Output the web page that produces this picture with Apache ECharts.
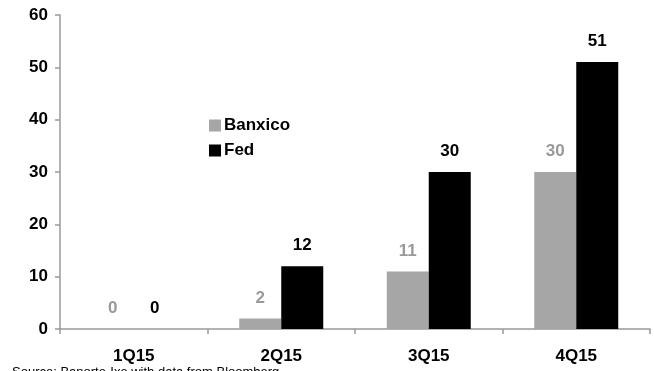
<!DOCTYPE html>
<html>
<head>
<meta charset="utf-8">
<script src="https://cdn.jsdelivr.net/npm/echarts@6/dist/echarts.min.js"></script>
<style>
  html, body { margin: 0; padding: 0; background: #fff; }
  #chart { width: 654px; height: 371px; }
</style>
</head>
<body>
<div id="chart"></div>
<script>
const categories = ['1Q15', '2Q15', '3Q15', '4Q15']
const banxico = [0, 2, 11, 30]
const fed = [0, 12, 30, 51]
const yTicks = [0, 60, 10]

const font = '"Liberation Sans Narrow", "Arial Narrow", "Liberation Sans", Arial, sans-serif'
const axisColor = '#999999'

const chart = echarts.init(document.getElementById('chart'))

chart.setOption({
  animation: false,
  textStyle: { fontFamily: font },
  grid: { left: 60, right: 4, top: 15, bottom: 42 },
  legend: {
    orient: 'vertical',
    left: 204,
    top: 112,
    itemWidth: 12,
    itemHeight: 12,
    itemGap: 8,
    icon: 'rect',
    textStyle: { fontFamily: font, fontWeight: 'bold', fontSize: 17, color: '#000', padding: [0, 0, 0, -2] },
    data: ['Banxico', 'Fed'],
  },
  graphic: [
    {
      type: 'text',
      left: 12,
      top: 366,
      style: { text: 'Source: Banorte-Ixe with data from Bloomberg', font: '13px "Liberation Sans", Arial, sans-serif', fill: '#000' },
    },
  ],
  xAxis: {
    type: 'category',
    data: categories,
    axisLine: { lineStyle: { color: axisColor, width: 1.5 } },
    axisTick: { show: true, length: 5, lineStyle: { color: axisColor, width: 1.5 } },
    axisLabel: { fontFamily: font, fontWeight: 'bold', fontSize: 17, color: '#000', margin: 19 },
  },
  yAxis: {
    type: 'value',
    min: yTicks[0],
    max: yTicks[1],
    interval: yTicks[2],
    axisLine: { show: true, lineStyle: { color: axisColor, width: 1.5 } },
    axisTick: { show: true, length: 5, lineStyle: { color: axisColor, width: 1.5 } },
    splitLine: { show: false },
    axisLabel: { fontFamily: font, fontWeight: 'bold', fontSize: 17, color: '#000', margin: 12 },
  },
  series: [
    {
      name: 'Banxico',
      type: 'bar',
      data: banxico,
      barWidth: 42,
      barGap: '0%',
      itemStyle: { color: '#a6a6a6' },
      label: { show: true, position: 'top', distance: 12, fontFamily: font, fontWeight: 'bold', fontSize: 17, color: '#999999' },
    },
    {
      name: 'Fed',
      type: 'bar',
      data: fed,
      barWidth: 42,
      barGap: '0%',
      itemStyle: { color: '#000000' },
      label: { show: true, position: 'top', distance: 12, fontFamily: font, fontWeight: 'bold', fontSize: 17, color: '#000' },
    },
  ],
})
</script>
</body>
</html>
